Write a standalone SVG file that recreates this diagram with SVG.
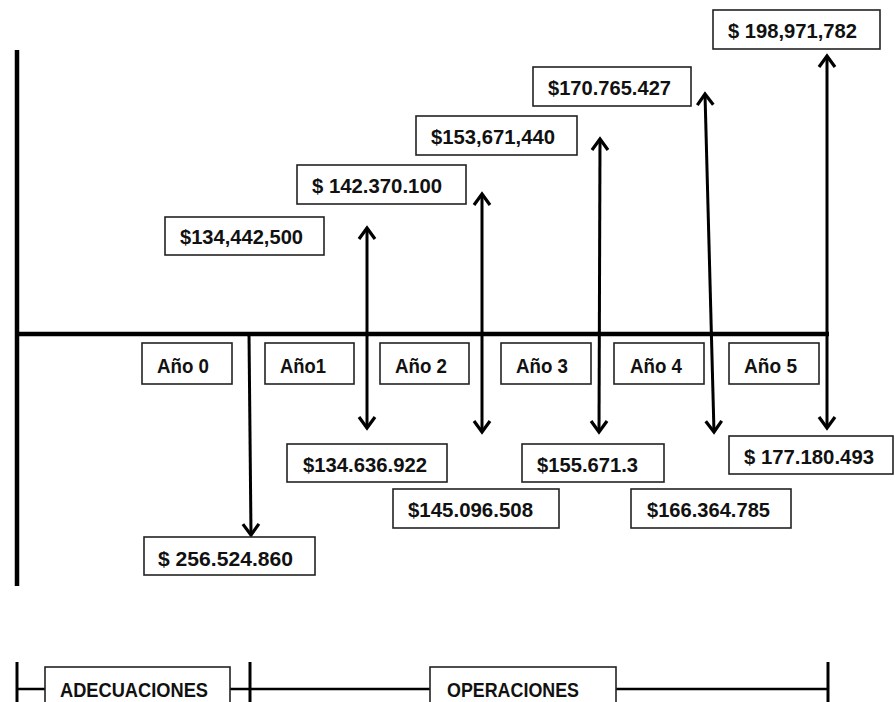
<svg xmlns="http://www.w3.org/2000/svg" width="895" height="702" viewBox="0 0 895 702">
<style>
.box{fill:#fff;stroke:#222;stroke-width:1.6}
.t{font-family:"Liberation Sans",Arial,sans-serif;font-weight:bold;font-size:20.5px;fill:#111}
.ax{stroke:#000;stroke-width:4.5;fill:none}
.ar{stroke:#000;stroke-width:3;fill:none}
.br{stroke:#000;stroke-width:2.5;fill:none}
</style>
<defs>
<marker id="ah" markerUnits="userSpaceOnUse" markerWidth="30" markerHeight="30" viewBox="-15 -15 30 30" refX="0" refY="0" orient="auto-start-reverse">
<path d="M-11,-8 L0,0 L-11,8" fill="none" stroke="#000" stroke-width="3.2"/>
</marker>
</defs>
<rect width="895" height="702" fill="#fff"/>
<g id="axes">
<line class="ax" x1="17" y1="50" x2="17" y2="586"/>
<line class="ax" x1="15" y1="334" x2="829" y2="334"/>
</g>
<g id="connectors">
<line class="ar" x1="249" y1="334" x2="251" y2="535" marker-end="url(#ah)"/>
<line class="ar" x1="367" y1="228" x2="367" y2="428" marker-start="url(#ah)" marker-end="url(#ah)"/>
<line class="ar" x1="482" y1="194" x2="482" y2="432" marker-start="url(#ah)" marker-end="url(#ah)"/>
<line class="ar" x1="600" y1="139" x2="599" y2="432" marker-start="url(#ah)" marker-end="url(#ah)"/>
<line class="ar" x1="705" y1="94" x2="714" y2="432" marker-start="url(#ah)" marker-end="url(#ah)"/>
<line class="ar" x1="827" y1="56" x2="827" y2="428" marker-start="url(#ah)" marker-end="url(#ah)"/>
</g>
<g id="in1"><rect class="box" x="165" y="217" width="159" height="38"/><text class="t" x="180" y="244" textLength="123" lengthAdjust="spacingAndGlyphs">$134,442,500</text></g>
<g id="in2"><rect class="box" x="297" y="165" width="169" height="39"/><text class="t" x="312" y="193" textLength="130" lengthAdjust="spacingAndGlyphs">$ 142.370.100</text></g>
<g id="in3"><rect class="box" x="416" y="116" width="161" height="39"/><text class="t" x="431" y="144" textLength="124" lengthAdjust="spacingAndGlyphs">$153,671,440</text></g>
<g id="in4"><rect class="box" x="533" y="67" width="158" height="39"/><text class="t" x="548" y="95" textLength="123" lengthAdjust="spacingAndGlyphs">$170.765.427</text></g>
<g id="in5"><rect class="box" x="713" y="10" width="167" height="39"/><text class="t" x="728" y="38" textLength="129" lengthAdjust="spacingAndGlyphs">$ 198,971,782</text></g>
<g id="y0"><rect class="box" x="142" y="343" width="90" height="41"/><text class="t" x="157" y="373" textLength="52" lengthAdjust="spacingAndGlyphs">Año 0</text></g>
<g id="y1"><rect class="box" x="265" y="343" width="89" height="41"/><text class="t" x="280" y="373" textLength="46" lengthAdjust="spacingAndGlyphs">Año1</text></g>
<g id="y2"><rect class="box" x="380" y="343" width="89" height="41"/><text class="t" x="395" y="373" textLength="52" lengthAdjust="spacingAndGlyphs">Año 2</text></g>
<g id="y3"><rect class="box" x="501" y="343" width="90" height="41"/><text class="t" x="516" y="373" textLength="52" lengthAdjust="spacingAndGlyphs">Año 3</text></g>
<g id="y4"><rect class="box" x="614" y="343" width="90" height="41"/><text class="t" x="630" y="373" textLength="52" lengthAdjust="spacingAndGlyphs">Año 4</text></g>
<g id="y5"><rect class="box" x="729" y="343" width="90" height="41"/><text class="t" x="744" y="373" textLength="53" lengthAdjust="spacingAndGlyphs">Año 5</text></g>
<g id="out0"><rect class="box" x="144" y="537" width="171" height="38"/><text class="t" x="158" y="566" textLength="135" lengthAdjust="spacingAndGlyphs">$ 256.524.860</text></g>
<g id="out1"><rect class="box" x="287" y="444" width="160" height="38"/><text class="t" x="303" y="472" textLength="124" lengthAdjust="spacingAndGlyphs">$134.636.922</text></g>
<g id="out2"><rect class="box" x="393" y="489" width="166" height="39"/><text class="t" x="408" y="517" textLength="125" lengthAdjust="spacingAndGlyphs">$145.096.508</text></g>
<g id="out3"><rect class="box" x="522" y="444" width="142" height="38"/><text class="t" x="537" y="472" textLength="101" lengthAdjust="spacingAndGlyphs">$155.671.3</text></g>
<g id="out4"><rect class="box" x="631" y="489" width="160" height="39"/><text class="t" x="647" y="517" textLength="123" lengthAdjust="spacingAndGlyphs">$166.364.785</text></g>
<g id="out5"><rect class="box" x="729" y="436" width="164" height="38"/><text class="t" x="744" y="464" textLength="130" lengthAdjust="spacingAndGlyphs">$ 177.180.493</text></g>
<g id="phases">
<line class="br" x1="17" y1="689" x2="828" y2="689"/>
<line class="ax" x1="17" y1="662" x2="17" y2="702" style="stroke-width:3"/>
<line class="ax" x1="250" y1="662" x2="250" y2="702" style="stroke-width:3"/>
<line class="ax" x1="828" y1="662" x2="828" y2="702" style="stroke-width:3"/>
</g>
<g id="adecuaciones"><rect class="box" x="45" y="667" width="185" height="40"/><text class="t" x="60" y="697" textLength="148" lengthAdjust="spacingAndGlyphs">ADECUACIONES</text></g>
<g id="operaciones"><rect class="box" x="430" y="667" width="186" height="40"/><text class="t" x="447" y="697" textLength="132" lengthAdjust="spacingAndGlyphs">OPERACIONES</text></g>
</svg>
